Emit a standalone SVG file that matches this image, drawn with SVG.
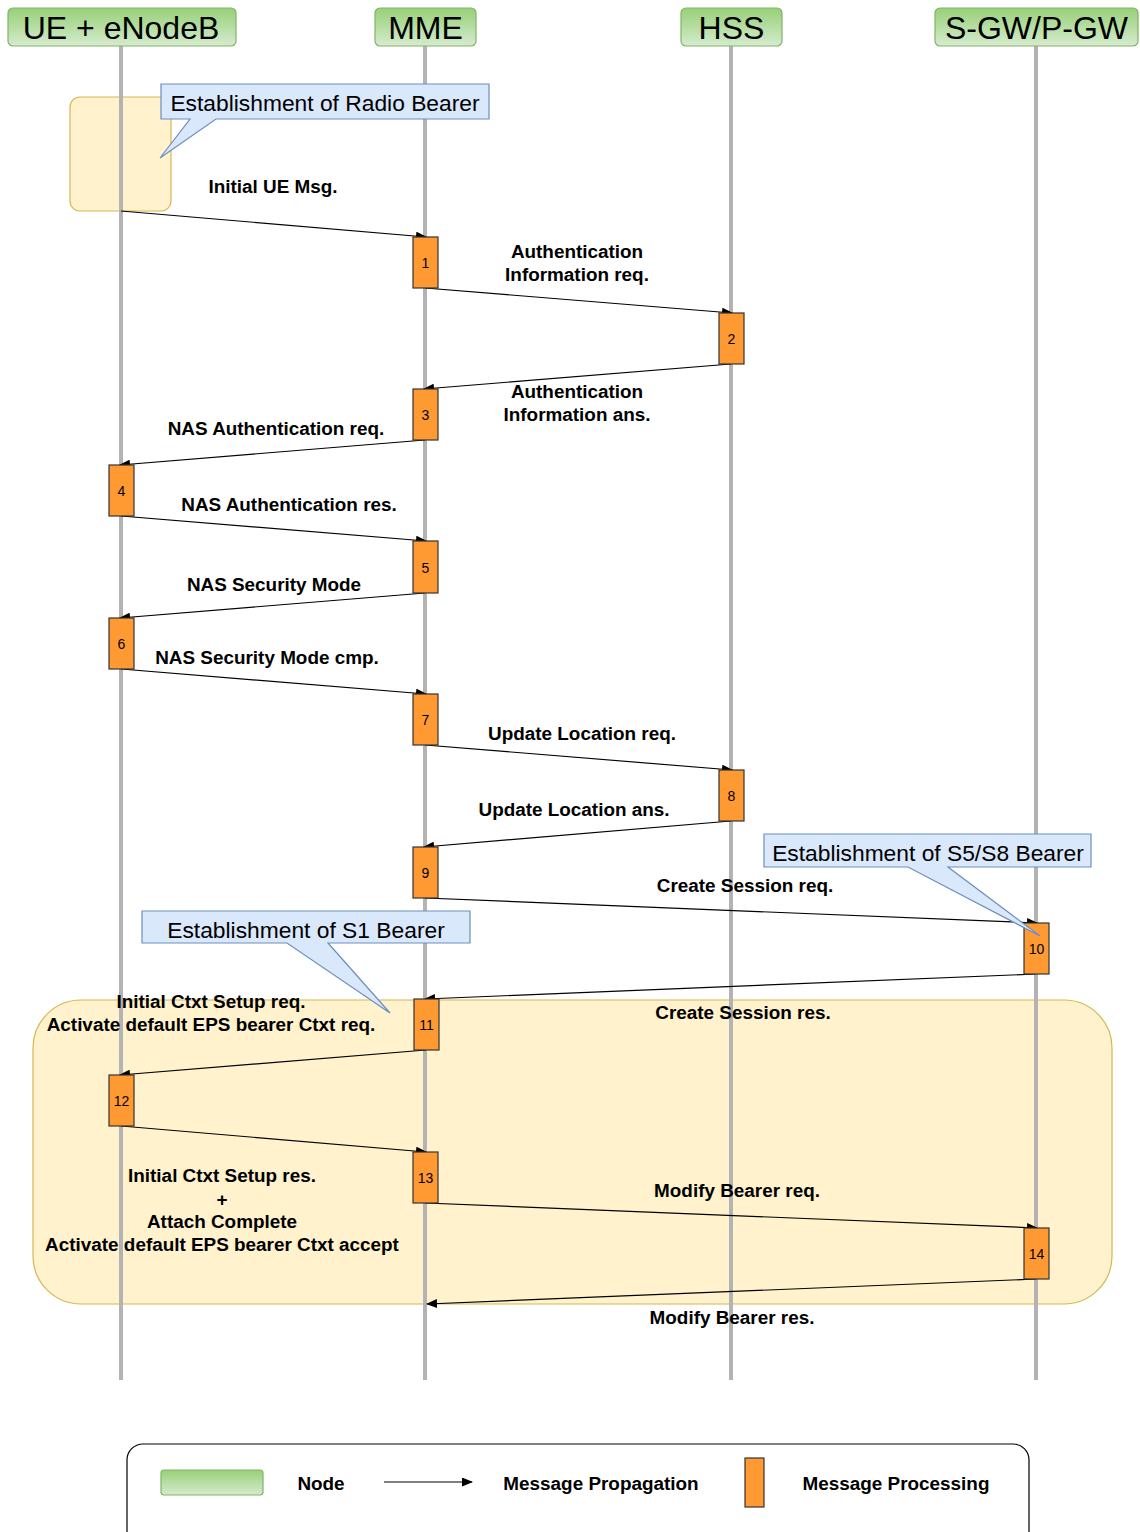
<svg xmlns="http://www.w3.org/2000/svg" width="1140" height="1532" viewBox="0 0 1140 1532">
  <style>
    .hdr { font-family: "Liberation Sans", Arial, sans-serif; font-size: 32px; fill: #000; text-anchor: middle; }
    .node { stroke: #82b366; stroke-width: 1.2; }
    .life { stroke: #b3b3b3; stroke-width: 4; fill: none; }
    .zone { fill: #fff2cc; stroke: #d6b656; stroke-width: 1.2; }
    .call { fill: #dae8fc; stroke: #6c8ebf; stroke-width: 1.2; }
    .callt { font-family: "Liberation Sans", Arial, sans-serif; font-size: 22.8px; fill: #000; }
    .proc { fill: #ff9a33; stroke: #333; stroke-width: 1.2; }
    .num { font-family: "Liberation Sans", Arial, sans-serif; font-size: 14px; fill: #000; text-anchor: middle; }
    .msg { stroke: #000; stroke-width: 1.2; fill: none; marker-end: url(#head); }
    .lbl { font-family: "Liberation Sans", Arial, sans-serif; font-size: 18.9px; font-weight: bold; fill: #000; text-anchor: middle; }
  </style>
  <defs>
    <linearGradient id="green" x1="0" y1="0" x2="0" y2="1">
      <stop offset="0" stop-color="#97d077"/>
      <stop offset="1" stop-color="#d5ebce"/>
    </linearGradient>
    <marker id="head" viewBox="0 0 11 9" refX="10" refY="4.5" markerWidth="11" markerHeight="9" markerUnits="userSpaceOnUse" orient="auto">
      <path d="M0,0 L11,4.5 L0,9 Z" fill="#000"/>
    </marker>
  </defs>

  <rect width="1140" height="1532" fill="#fff"/>

  <!-- highlighted phases -->
  <g id="radio-zone"><rect class="zone" x="70" y="97" width="101" height="114" rx="10"/></g>
  <g id="bearer-zone"><rect class="zone" x="33" y="1000" width="1079" height="304" rx="48"/></g>

  <!-- lifelines -->
  <g id="lifelines">
    <line class="life" x1="121" y1="46" x2="121" y2="1380"/>
    <line class="life" x1="425" y1="46" x2="425" y2="1380"/>
    <line class="life" x1="731" y1="46" x2="731" y2="1380"/>
    <line class="life" x1="1036" y1="46" x2="1036" y2="1380"/>
  </g>

  <!-- network elements -->
  <g id="ue-enodeb"><rect class="node" x="8" y="8" width="228" height="38" rx="5" fill="url(#green)"/><text class="hdr" x="121" y="39">UE + eNodeB</text></g>
  <g id="mme"><rect class="node" x="375" y="8" width="101" height="38" rx="5" fill="url(#green)"/><text class="hdr" x="425.5" y="39">MME</text></g>
  <g id="hss"><rect class="node" x="681" y="8" width="101" height="38" rx="5" fill="url(#green)"/><text class="hdr" x="731.5" y="39">HSS</text></g>
  <g id="sgw-pgw"><rect class="node" x="935" y="8" width="203" height="38" rx="5" fill="url(#green)"/><text class="hdr" x="1036.5" y="39">S-GW/P-GW</text></g>

  <!-- messages -->
  <g id="connectors">
    <line class="msg" x1="121" y1="211" x2="426" y2="237"/>
    <line class="msg" x1="425" y1="288" x2="732" y2="313"/>
    <line class="msg" x1="731" y1="364" x2="424" y2="389"/>
    <line class="msg" x1="425" y1="440" x2="120" y2="465"/>
    <line class="msg" x1="121" y1="516" x2="426" y2="541"/>
    <line class="msg" x1="425" y1="593" x2="120" y2="618"/>
    <line class="msg" x1="121" y1="669" x2="426" y2="694"/>
    <line class="msg" x1="425" y1="745" x2="732" y2="770"/>
    <line class="msg" x1="731" y1="821" x2="424" y2="847"/>
    <line class="msg" x1="425" y1="898" x2="1037" y2="923"/>
    <line class="msg" x1="1036" y1="974" x2="425" y2="999"/>
    <line class="msg" x1="426" y1="1050" x2="120" y2="1075"/>
    <line class="msg" x1="121" y1="1126" x2="426" y2="1152"/>
    <line class="msg" x1="425" y1="1203" x2="1037" y2="1228"/>
    <line class="msg" x1="1036" y1="1279" x2="427" y2="1304"/>
  </g>

  <!-- processing steps -->
  <g id="step-1"><rect class="proc" x="413" y="237" width="25" height="51"/><text class="num" x="425.5" y="268">1</text></g>
  <g id="step-2"><rect class="proc" x="719" y="313" width="25" height="51"/><text class="num" x="731.5" y="344">2</text></g>
  <g id="step-3"><rect class="proc" x="413" y="389" width="25" height="51"/><text class="num" x="425.5" y="420">3</text></g>
  <g id="step-4"><rect class="proc" x="109" y="465" width="25" height="51"/><text class="num" x="121.5" y="496">4</text></g>
  <g id="step-5"><rect class="proc" x="413" y="541" width="25" height="52"/><text class="num" x="425.5" y="573">5</text></g>
  <g id="step-6"><rect class="proc" x="109" y="618" width="25" height="51"/><text class="num" x="121.5" y="649">6</text></g>
  <g id="step-7"><rect class="proc" x="413" y="694" width="25" height="51"/><text class="num" x="425.5" y="725">7</text></g>
  <g id="step-8"><rect class="proc" x="719" y="770" width="25" height="51"/><text class="num" x="731.5" y="801">8</text></g>
  <g id="step-9"><rect class="proc" x="413" y="847" width="25" height="51"/><text class="num" x="425.5" y="878">9</text></g>
  <g id="step-10"><rect class="proc" x="1024" y="923" width="25" height="51"/><text class="num" x="1036.5" y="954">10</text></g>
  <g id="step-11"><rect class="proc" x="414" y="999" width="25" height="51"/><text class="num" x="426.5" y="1030">11</text></g>
  <g id="step-12"><rect class="proc" x="109" y="1075" width="25" height="51"/><text class="num" x="121.5" y="1106">12</text></g>
  <g id="step-13"><rect class="proc" x="413" y="1152" width="25" height="51"/><text class="num" x="425.5" y="1183">13</text></g>
  <g id="step-14"><rect class="proc" x="1024" y="1228" width="25" height="51"/><text class="num" x="1036.5" y="1259">14</text></g>

  <!-- callouts -->
  <g id="callout-radio">
    <path class="call" d="M161,84 H489 V119 H216 L160,158 L190,119 H161 Z"/>
    <text class="callt" x="325" y="111" text-anchor="middle">Establishment of Radio Bearer</text>
  </g>
  <g id="callout-s5s8">
    <path class="call" d="M764,834 H1091 V867 H948 L1040,936 L908,867 H764 Z"/>
    <text class="callt" x="928" y="861" text-anchor="middle">Establishment of S5/S8 Bearer</text>
  </g>
  <g id="callout-s1">
    <path class="call" d="M142,911 H470 V943 H328 L390,1013 L287,943 H142 Z"/>
    <text class="callt" x="306" y="938" text-anchor="middle">Establishment of S1 Bearer</text>
  </g>

  <!-- message labels -->
  <g id="labels">
    <text class="lbl" x="273" y="193">Initial UE Msg.</text>
    <text class="lbl" x="577" y="258">Authentication</text>
    <text class="lbl" x="577" y="281">Information req.</text>
    <text class="lbl" x="577" y="398">Authentication</text>
    <text class="lbl" x="577" y="421">Information ans.</text>
    <text class="lbl" x="276" y="435">NAS Authentication req.</text>
    <text class="lbl" x="289" y="511">NAS Authentication res.</text>
    <text class="lbl" x="274" y="591">NAS Security Mode</text>
    <text class="lbl" x="267" y="664">NAS Security Mode cmp.</text>
    <text class="lbl" x="582" y="740">Update Location req.</text>
    <text class="lbl" x="574" y="816">Update Location ans.</text>
    <text class="lbl" x="745" y="892">Create Session req.</text>
    <text class="lbl" x="743" y="1019">Create Session res.</text>
    <text class="lbl" x="211" y="1008">Initial Ctxt Setup req.</text>
    <text class="lbl" x="211" y="1031">Activate default EPS bearer Ctxt req.</text>
    <text class="lbl" x="222" y="1182">Initial Ctxt Setup res.</text>
    <text class="lbl" x="222" y="1206">+</text>
    <text class="lbl" x="222" y="1228">Attach Complete</text>
    <text class="lbl" x="222" y="1251">Activate default EPS bearer Ctxt accept</text>
    <text class="lbl" x="737" y="1197">Modify Bearer req.</text>
    <text class="lbl" x="732" y="1324">Modify Bearer res.</text>
  </g>

  <!-- legend -->
  <g id="legend">
    <rect x="127" y="1444" width="902" height="110" rx="16" fill="#fff" stroke="#000" stroke-width="1.2"/>
    <rect class="node" x="161" y="1470" width="102" height="25" rx="3" fill="url(#green)"/>
    <text class="lbl" x="321" y="1490">Node</text>
    <line class="msg" x1="384" y1="1482" x2="472" y2="1482"/>
    <text class="lbl" x="601" y="1490">Message Propagation</text>
    <rect class="proc" x="745" y="1458" width="19" height="49"/>
    <text class="lbl" x="896" y="1490">Message Processing</text>
  </g>
</svg>
